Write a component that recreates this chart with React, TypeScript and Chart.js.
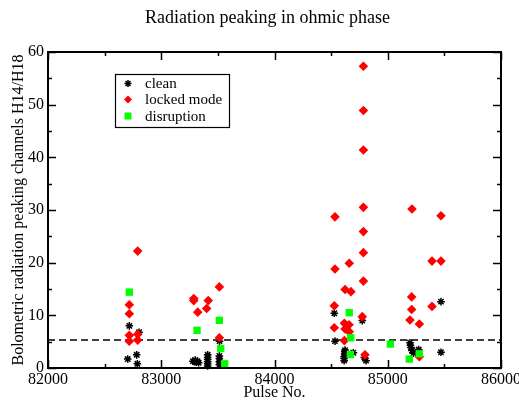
import { useEffect, useRef } from 'react';
import { Chart, registerables } from 'chart.js';

Chart.register(...registerables);

const chartTitle = 'Radiation peaking in ohmic phase';
const xTitle = 'Pulse No.';
const yTitle = 'Bolometric radiation peaking channels H14/H18';
const seriesNames = ['clean', 'locked mode', 'disruption'];

const cleanPulse = [
  82704, 82783, 82789, 82718, 82804,
  83280, 83295, 83310, 83320, 83330, 83300,
  83410, 83410, 83410, 83410, 83410, 83410,
  83513, 83513, 83513, 83513, 83515,
  84528, 84534, 84775, 84696, 84615, 84615, 84615, 84620, 84620, 84623, 84808, 84793,
  85196, 85200, 85205, 85214, 85226, 85273, 85470, 85470,
];
const cleanPeak = [
  1.7, 2.5, 0.8, 8.0, 6.8,
  1.3, 1.2, 1.1, 1.3, 1.0, 1.5,
  0.4, 0.8, 1.2, 1.6, 2.0, 2.5,
  0.6, 1.2, 1.8, 2.3, 5.1,
  10.4, 5.1, 9.0, 2.9, 1.4, 1.8, 2.2, 2.7, 3.1, 3.4, 1.4, 2.0,
  4.8, 4.3, 3.9, 3.3, 2.8, 3.5, 3.0, 12.6,
];

const lockedPulse = [
  82792, 82718, 82718, 82718, 82718, 82792, 82792,
  83287, 83287, 83415, 83322, 83401, 83513, 83513,
  84785, 84785, 84785, 84785, 84534, 84785, 84785, 84660, 84534, 84785,
  84623, 84675, 84528, 84775, 84528, 84617, 84658, 84623, 84660, 84617, 84799,
  85214, 85470, 85391, 85470, 85211, 85211, 85391, 85196, 85279, 85279,
];
const lockedPeak = [
  22.2, 12.0, 10.3, 6.2, 5.1, 6.4, 5.3,
  13.2, 12.8, 12.8, 10.6, 11.3, 15.4, 5.75,
  57.3, 48.9, 41.4, 30.5, 28.7, 25.9, 21.9, 19.9, 18.8, 16.5,
  14.9, 14.5, 11.8, 9.75, 7.65, 8.5, 8.2, 7.4, 6.9, 5.2, 2.5,
  30.2, 28.9, 20.3, 20.3, 13.5, 11.1, 11.7, 9.1, 8.35, 2.15,
];

const disruptionPulse = [82718, 83316, 83513, 83525, 83560, 84660, 84673, 84670, 85023, 85279, 85190];
const disruptionPeak = [14.4, 7.15, 9.05, 3.7, 0.8, 10.5, 5.75, 2.55, 4.55, 2.7, 1.7];

const thresholdPulse = [82000, 86000];
const thresholdLevel = 5.3;

const xMin = 82000;
const xMax = 86000;
const xMajor = 1000;
const xMinor = 500;
const yMin = 0;
const yMax = 60;
const yMajor = 10;
const yMinor = 5;

const FONT = '"Liberation Serif", "Times New Roman", serif';

const toPoints = (xs: number[], ys: number[]) => xs.map((x, i) => ({ x, y: ys[i] }));

function drawStar(ctx: CanvasRenderingContext2D, x: number, y: number, r: number) {
  ctx.beginPath();
  ctx.moveTo(x - r, y); ctx.lineTo(x + r, y);
  ctx.moveTo(x, y - r); ctx.lineTo(x, y + r);
  const d = r * Math.SQRT1_2;
  ctx.moveTo(x - d, y - d); ctx.lineTo(x + d, y + d);
  ctx.moveTo(x - d, y + d); ctx.lineTo(x + d, y - d);
  ctx.stroke();
}

const framePlugin = {
  id: 'frameTicks',
  afterDraw(chart: any) {
    const { ctx, chartArea: a, scales } = chart;
    const xs = scales.x;
    const ys = scales.y;
    ctx.save();
    ctx.strokeStyle = '#000';
    ctx.lineWidth = 2;
    ctx.strokeRect(a.left, a.top, a.right - a.left, a.bottom - a.top);
    ctx.lineWidth = 1.5;
    ctx.beginPath();
    for (let v = xMin; v <= xMax; v += xMinor) {
      const px = Math.round(xs.getPixelForValue(v)) + 0.5;
      const len = (v - xMin) % xMajor === 0 ? 8 : 4;
      ctx.moveTo(px, a.bottom); ctx.lineTo(px, a.bottom - len);
      ctx.moveTo(px, a.top); ctx.lineTo(px, a.top + len);
    }
    for (let v = yMin; v <= yMax; v += yMinor) {
      const py = Math.round(ys.getPixelForValue(v)) + 0.5;
      const len = (v - yMin) % yMajor === 0 ? 8 : 4;
      ctx.moveTo(a.left, py); ctx.lineTo(a.left + len, py);
      ctx.moveTo(a.right, py); ctx.lineTo(a.right - len, py);
    }
    ctx.stroke();

    // title
    ctx.fillStyle = '#000';
    ctx.font = `18px ${FONT}`;
    ctx.textAlign = 'center';
    ctx.textBaseline = 'alphabetic';
    ctx.fillText(chartTitle, (a.left + a.right) / 2 - 7, a.top - 29);

    // legend
    const lx = a.left + 67;
    const ly = a.top + 22;
    const lw = 114;
    const lh = 53;
    ctx.lineWidth = 1.2;
    ctx.strokeRect(lx + 0.5, ly + 0.5, lw, lh);
    ctx.font = `15px ${FONT}`;
    ctx.textAlign = 'left';
    ctx.textBaseline = 'middle';
    const symX = lx + 13;
    const txtX = lx + 30;
    const rows = [ly + 9.5, ly + 25.5, ly + 42];
    // clean
    ctx.strokeStyle = '#000';
    ctx.lineWidth = 1.5;
    drawStar(ctx, symX, rows[0], 3.5);
    // locked mode
    ctx.fillStyle = '#ff0000';
    ctx.beginPath();
    ctx.moveTo(symX, rows[1] - 4); ctx.lineTo(symX + 4, rows[1]);
    ctx.lineTo(symX, rows[1] + 4); ctx.lineTo(symX - 4, rows[1]);
    ctx.closePath(); ctx.fill();
    // disruption
    ctx.fillStyle = '#00ff00';
    ctx.fillRect(symX - 3.5, rows[2] - 3.5, 7, 7);
    ctx.fillStyle = '#000';
    seriesNames.forEach((n, i) => ctx.fillText(n, txtX, rows[i] + 1));
    ctx.restore();
  },
};

export default function App() {
  const ref = useRef<HTMLCanvasElement | null>(null);
  useEffect(() => {
    document.body.style.margin = '0';
    const canvas = ref.current;
    if (!canvas) return;
    const chart = new Chart(canvas, {
      type: 'scatter',
      data: {
        datasets: [
          {
            type: 'line',
            label: 'threshold',
            data: thresholdPulse.map((x) => ({ x, y: thresholdLevel })),
            borderColor: '#000',
            borderWidth: 1.5,
            borderDash: [7, 4],
            pointRadius: 0,
            fill: false,
            order: 4,
          } as any,
          {
            label: seriesNames[0],
            data: toPoints(cleanPulse, cleanPeak),
            pointStyle: 'star',
            pointRadius: 3.8,
            borderColor: '#000',
            backgroundColor: '#000',
            pointBorderWidth: 1.5,
            clip: false,
            order: 3,
          } as any,
          {
            label: seriesNames[1],
            data: toPoints(lockedPulse, lockedPeak),
            pointStyle: 'rectRot',
            pointRadius: 4.8,
            borderColor: '#ff0000',
            backgroundColor: '#ff0000',
            pointBorderWidth: 0,
            clip: false,
            order: 2,
          } as any,
          {
            label: seriesNames[2],
            data: toPoints(disruptionPulse, disruptionPeak),
            pointStyle: 'rect',
            pointRadius: 5.2,
            borderColor: '#00ff00',
            backgroundColor: '#00ff00',
            pointBorderWidth: 0,
            clip: false,
            order: 1,
          } as any,
        ],
      },
      options: {
        responsive: false,
        animation: false,
        events: [],
        layout: { padding: { top: 52, right: 18, left: 0, bottom: 0 } },
        plugins: {
          legend: { display: false },
          title: { display: false },
          tooltip: { enabled: false },
        },
        scales: {
          x: {
            type: 'linear',
            min: xMin,
            max: xMax,
            grid: { display: false, drawTicks: false },
            border: { display: false },
            ticks: {
              stepSize: xMajor,
              padding: 2,
              maxRotation: 0,
              color: '#000',
              font: { family: FONT, size: 16 },
              callback: (v: any) => String(v),
            },
            title: {
              display: true,
              text: xTitle,
              color: '#000',
              font: { family: FONT, size: 16 },
              padding: { top: 0, bottom: 2 },
            },
            afterFit: (s: any) => {
              s.height = 36;
              s.paddingLeft = 0;
              s.paddingRight = 0;
            },
          },
          y: {
            type: 'linear',
            min: yMin,
            max: yMax,
            grid: { display: false, drawTicks: false },
            border: { display: false },
            ticks: {
              stepSize: yMajor,
              padding: 4,
              color: '#000',
              font: { family: FONT, size: 16 },
            },
            title: {
              display: true,
              text: yTitle,
              color: '#000',
              font: { family: FONT, size: 16 },
              padding: { top: 9, bottom: 0 },
            },
            afterFit: (s: any) => {
              s.width = 48;
              s.paddingTop = 0;
              s.paddingBottom = 0;
            },
          },
        },
      } as any,
      plugins: [framePlugin],
    });
    return () => chart.destroy();
  }, []);
  return (
    <div style={{ width: 519, height: 404, background: '#fff' }}>
      <canvas ref={ref} width={519} height={404} />
    </div>
  );
}
